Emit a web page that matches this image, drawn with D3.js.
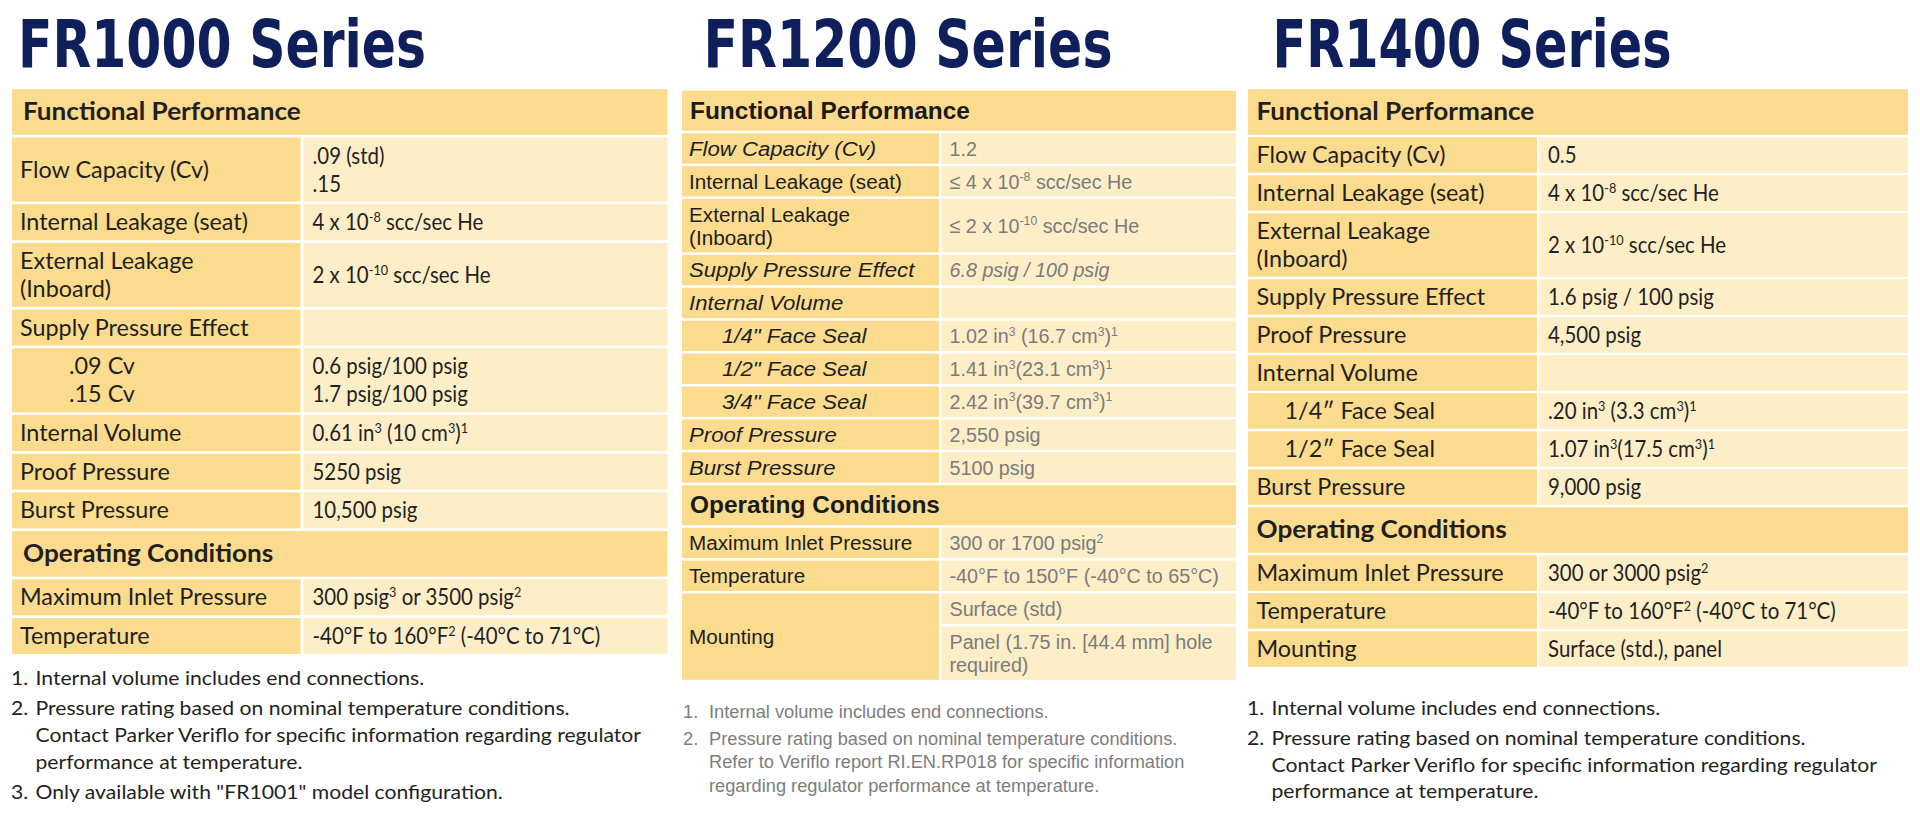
<!DOCTYPE html>
<html>
<head>
<meta charset="utf-8">
<script src="https://cdn.jsdelivr.net/npm/d3@7"></script>
<style>
  body { margin: 0; background: #fff; }
</style>
</head>
<body>
<script>
var seriesTitles = ["FR1000 Series", "FR1200 Series", "FR1400 Series"];
var sectionNames = ["Functional Performance", "Operating Conditions"];

// ">" at the start of a label marks an indented sub item, "\n" a line break, ^{..} a superscript
var fr1000FuncLabels = ["Flow Capacity (Cv)", "Internal Leakage (seat)", "External Leakage\n(Inboard)",
  "Supply Pressure Effect", ">.09 Cv\n.15 Cv", "Internal Volume", "Proof Pressure", "Burst Pressure"];
var fr1000FuncValues = [".09 (std)\n.15", "4 x 10^{-8} scc/sec He", "2 x 10^{-10} scc/sec He",
  "", "0.6 psig/100 psig\n1.7 psig/100 psig", "0.61 in^{3} (10 cm^{3})^{1}", "5250 psig", "10,500 psig"];
var fr1000OpLabels = ["Maximum Inlet Pressure", "Temperature"];
var fr1000OpValues = ["300 psig^{3} or 3500 psig^{2}", "-40°F to 160°F^{2} (-40°C to 71°C)"];
var fr1000Notes = ["Internal volume includes end connections.",
  "Pressure rating based on nominal temperature conditions.\nContact Parker Veriflo for specific information regarding regulator\nperformance at temperature.",
  "Only available with \"FR1001\" model configuration."];

var fr1200FuncLabels = ["Flow Capacity (Cv)", "Internal Leakage (seat)", "External Leakage\n(Inboard)",
  "Supply Pressure Effect", "Internal Volume", ">1/4\" Face Seal", ">1/2\" Face Seal", ">3/4\" Face Seal",
  "Proof Pressure", "Burst Pressure"];
var fr1200FuncValues = ["1.2", "≤ 4 x 10^{-8} scc/sec He", "≤ 2 x 10^{-10} scc/sec He",
  "6.8 psig / 100 psig", "", "1.02 in^{3} (16.7 cm^{3})^{1}", "1.41 in^{3}(23.1 cm^{3})^{1}",
  "2.42 in^{3}(39.7 cm^{3})^{1}", "2,550 psig", "5100 psig"];
// null label = the cell above spans this row too
var fr1200OpLabels = ["Maximum Inlet Pressure", "Temperature", "Mounting", null];
var fr1200OpValues = ["300 or 1700 psig^{2}", "-40°F to 150°F (-40°C to 65°C)", "Surface (std)",
  "Panel (1.75 in. [44.4 mm] hole\nrequired)"];
var fr1200Notes = ["Internal volume includes end connections.",
  "Pressure rating based on nominal temperature conditions.\nRefer to Veriflo report RI.EN.RP018 for specific information\nregarding regulator performance at temperature."];

var fr1400FuncLabels = ["Flow Capacity (Cv)", "Internal Leakage (seat)", "External Leakage\n(Inboard)",
  "Supply Pressure Effect", "Proof Pressure", "Internal Volume", ">1/4″ Face Seal", ">1/2″ Face Seal",
  "Burst Pressure"];
var fr1400FuncValues = ["0.5", "4 x 10^{-8} scc/sec He", "2 x 10^{-10} scc/sec He",
  "1.6 psig / 100 psig", "4,500 psig", "", ".20 in^{3} (3.3 cm^{3})^{1}", "1.07 in^{3}(17.5 cm^{3})^{1}",
  "9,000 psig"];
var fr1400OpLabels = ["Maximum Inlet Pressure", "Temperature", "Mounting"];
var fr1400OpValues = ["300 or 3000 psig^{2}", "-40°F to 160°F^{2} (-40°C to 71°C)", "Surface (std.), panel"];
var fr1400Notes = ["Internal volume includes end connections.",
  "Pressure rating based on nominal temperature conditions.\nContact Parker Veriflo for specific information regarding regulator\nperformance at temperature."];

// ---- drawing ----
var width = 1920, height = 820;
var darkFill = "#fbdc8e", lightFill = "#fdeec8", navy = "#0e1f5b";

var svg = d3.select("body").append("svg")
  .attr("width", width)
  .attr("height", height);

// text styles, squeezed horizontally to match sample widths on the sheet
var myriad = { family: "Lato", size: 23, weight: 400, color: "#231f20", sample: "Flow Capacity (Cv)", target: 189 };
var myriadValue = { family: "Lato", size: 23, weight: 400, color: "#231f20", sample: "Flow Capacity (Cv)", target: 165 };
var myriadBold = { family: "Lato", size: 24, weight: 700, color: "#231f20", sample: "Functional Performance", target: 278 };
var myriadNote = { family: "Lato", size: 20, weight: 400, color: "#231f20", sample: "Internal volume includes end connections.", target: 389 };
var arial = { family: "Liberation Sans", size: 21, weight: 400, color: "#1e1e1e", sample: "Internal Leakage (seat)", target: 213, italicBoost: 1.07 };
var arialValue = { family: "Liberation Sans", size: 21, weight: 400, color: "#7b7b7b", sample: "Internal Leakage (seat)", target: 203 };
var arialBold = { family: "Liberation Sans", size: 23, weight: 700, color: "#1a1a1a", sample: "Functional Performance", target: 280 };
var arialNote = { family: "Liberation Sans", size: 18.5, weight: 400, color: "#7d7d7d", sample: "Internal volume includes end connections.", target: 340 };

[myriad, myriadValue, myriadBold, myriadNote, arial, arialValue, arialBold, arialNote].forEach(calibrate);

function calibrate(st) {
  var t = svg.append("text")
    .style("font-family", st.family)
    .style("font-size", st.size + "px")
    .style("font-weight", st.weight)
    .text(st.sample);
  st.sx = st.target / t.node().getComputedTextLength();
  t.remove();
}

var tables = [
  { title: seriesTitles[0], titleX: 18, titleW: 408,
    funcL: fr1000FuncLabels, funcV: fr1000FuncValues, opL: fr1000OpLabels, opV: fr1000OpValues, notes: fr1000Notes,
    x0: 12, x1: 667.5, split: 300.5, valLeft: 303.5, top: 89.3, headH: 45.5, rowH: 36, lineStep: 28, gap: 2.7,
    padL: 8, headPad: 11, valPad: 9, indent: 49,
    noteTop: 685, noteLine: 27, noteGap: 30, noteNumX: 11, noteTextX: 35.5,
    label: myriad, value: myriadValue, head: myriadBold, note: myriadNote, italics: [] },
  { title: seriesTitles[1], titleX: 703.5, titleW: 409,
    funcL: fr1200FuncLabels, funcV: fr1200FuncValues, opL: fr1200OpLabels, opV: fr1200OpValues, notes: fr1200Notes,
    x0: 682, x1: 1236, split: 939, valLeft: 941.5, top: 90.7, headH: 40, rowH: 30.4, lineStep: 23, gap: 2.5,
    padL: 7, headPad: 8, valPad: 8, indent: 33,
    noteTop: 718, noteLine: 23.3, noteGap: 27, noteNumX: 683, noteTextX: 709,
    label: arial, value: arialValue, head: arialBold, note: arialNote,
    italics: ["Flow Capacity (Cv)", "Supply Pressure Effect", "Internal Volume", "1/4\" Face Seal",
      "1/2\" Face Seal", "3/4\" Face Seal", "Proof Pressure", "Burst Pressure", "6.8 psig / 100 psig"] },
  { title: seriesTitles[2], titleX: 1272.5, titleW: 399,
    funcL: fr1400FuncLabels, funcV: fr1400FuncValues, opL: fr1400OpLabels, opV: fr1400OpValues, notes: fr1400Notes,
    x0: 1248, x1: 1908, split: 1537, valLeft: 1539.5, top: 89.3, headH: 45.5, rowH: 35.5, lineStep: 28, gap: 2.5,
    padL: 8.5, headPad: 8.5, valPad: 8.5, indent: 28,
    noteTop: 715, noteLine: 26.6, noteGap: 30, noteNumX: 1247, noteTextX: 1271.5,
    label: myriad, value: myriadValue, head: myriadBold, note: myriadNote, italics: [] }
];

tables.forEach(drawTable);

// cy is the middle of the capitals; baseline sits 0.35em below it
function drawText(g, x, cy, str, st, italic) {
  var sx = st.sx * (italic && st.italicBoost ? st.italicBoost : 1);
  var t = g.append("text")
    .attr("transform", "translate(" + x + "," + (cy + st.size * 0.35) + ") scale(" + sx + ",1)")
    .attr("fill", st.color)
    .style("font-family", st.family)
    .style("font-size", st.size + "px")
    .style("font-weight", st.weight)
    .style("font-style", italic ? "italic" : "normal")
    .style("white-space", "pre");
  var parts = str.split(/\^\{([^}]*)\}/);
  var shift = st.size * 0.36, cur = 0;
  parts.forEach(function(p, i) {
    if (p === "") return;
    var target = (i % 2 === 1) ? -shift : 0;
    t.append("tspan")
      .attr("dy", target - cur)
      .style("font-size", (i % 2 === 1) ? (st.size * 0.62) + "px" : null)
      .text(p);
    cur = target;
  });
  return t;
}

function lineCount(s) {
  return s ? s.split("\n").length : 1;
}

function drawTable(tb) {
  var g = svg.append("g");

  g.append("text")
    .attr("x", tb.titleX)
    .attr("y", 66.5)
    .attr("fill", navy)
    .attr("textLength", tb.titleW)
    .attr("lengthAdjust", "spacingAndGlyphs")
    .style("font-family", "'DejaVu Sans Condensed', 'DejaVu Sans'")
    .style("font-size", "66px")
    .style("font-weight", 700)
    .text(tb.title);

  // flatten the sections into one list of rows
  var items = [{ head: sectionNames[0] }];
  tb.funcL.forEach(function(d, i) { items.push({ label: d, value: tb.funcV[i] }); });
  items.push({ head: sectionNames[1] });
  tb.opL.forEach(function(d, i) { items.push({ label: d, value: tb.opV[i] }); });

  var y = tb.top;
  items.forEach(function(d, i) {
    var lines = d.head ? 1 : Math.max(lineCount(d.label), lineCount(d.value));
    d.y = y;
    d.h = d.head ? tb.headH : tb.rowH + (lines - 1) * tb.lineStep;
    d.labelY = d.y;
    d.labelH = d.h;
    if (d.label === null) {
      var prev = items[i - 1];
      prev.labelH = d.y + d.h - prev.labelY;
      d.merged = true;
    }
    y += d.h + tb.gap;
  });

  items.forEach(function(d) {
    if (d.head) {
      g.append("rect")
        .attr("x", tb.x0).attr("y", d.y)
        .attr("width", tb.x1 - tb.x0).attr("height", d.h)
        .attr("fill", darkFill);
      return;
    }
    g.append("rect")
      .attr("x", tb.valLeft).attr("y", d.y)
      .attr("width", tb.x1 - tb.valLeft).attr("height", d.h)
      .attr("fill", lightFill);
  });
  // label cells drawn after so merged ones cover their full span
  items.forEach(function(d) {
    if (d.head || d.merged) return;
    g.append("rect")
      .attr("x", tb.x0).attr("y", d.labelY)
      .attr("width", tb.split - tb.x0).attr("height", d.labelH)
      .attr("fill", darkFill);
  });

  items.forEach(function(d) {
    if (d.head) {
      drawText(g, tb.x0 + tb.headPad, d.y + d.h / 2, d.head, tb.head, false);
      return;
    }
    if (!d.merged) {
      var lbl = d.label, x = tb.x0 + tb.padL;
      if (lbl.charAt(0) === ">") { lbl = lbl.slice(1); x += tb.indent; }
      var ll = lbl.split("\n");
      ll.forEach(function(s, k) {
        var cy = d.labelY + d.labelH / 2 + (k - (ll.length - 1) / 2) * tb.lineStep;
        drawText(g, x, cy, s, tb.label, tb.italics.indexOf(lbl) >= 0);
      });
    }
    if (d.value) {
      var vl = d.value.split("\n");
      vl.forEach(function(s, k) {
        var cy = d.y + d.h / 2 + (k - (vl.length - 1) / 2) * tb.lineStep;
        drawText(g, tb.valLeft + tb.valPad, cy, s, tb.value, tb.italics.indexOf(d.value) >= 0);
      });
    }
  });

  // footnotes, noteTop is the first baseline
  var ny = tb.noteTop - tb.note.size * 0.35;
  tb.notes.forEach(function(n, i) {
    drawText(g, tb.noteNumX, ny, (i + 1) + ".", tb.note, false);
    n.split("\n").forEach(function(s, k) {
      if (k > 0) ny += tb.noteLine;
      drawText(g, tb.noteTextX, ny, s, tb.note, false);
    });
    ny += tb.noteGap;
  });
}
</script>
</body>
</html>
